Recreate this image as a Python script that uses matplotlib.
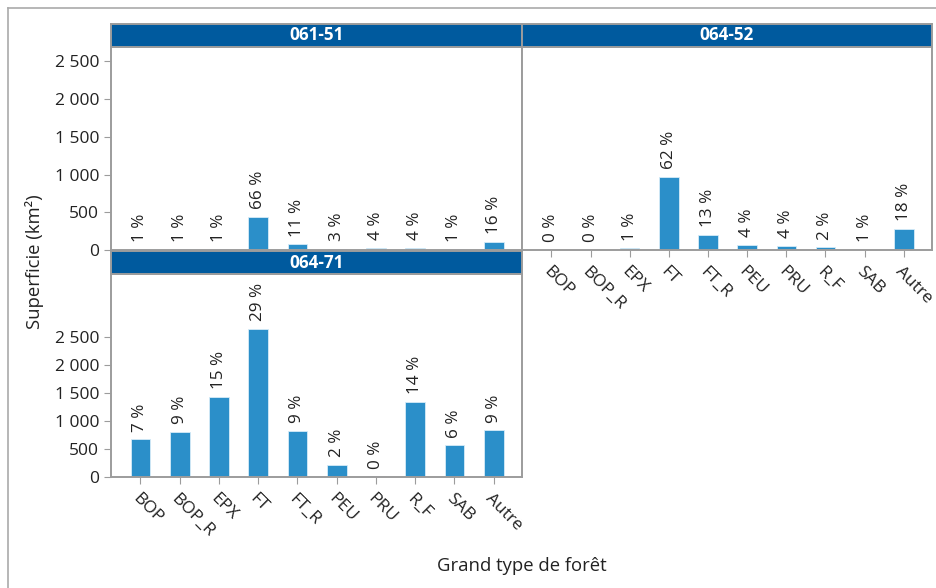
import matplotlib
matplotlib.use("Agg")
import matplotlib.pyplot as plt
from matplotlib.lines import Line2D
from matplotlib.ticker import FuncFormatter

categories = ["BOP", "BOP_R", "EPX", "FT", "FT_R", "PEU", "PRU", "R_F", "SAB", "Autre"]

area_061_51 = [7, 7, 8, 437, 76, 18, 31, 31, 7, 107]
pct_061_51 = [1, 1, 1, 66, 11, 3, 4, 4, 1, 16]

area_064_52 = [3, 3, 20, 971, 200, 66, 53, 36, 5, 284]
pct_064_52 = [0, 0, 1, 62, 13, 4, 4, 2, 1, 18]

area_064_71 = [673, 804, 1429, 2649, 821, 220, 15, 1339, 565, 833]
pct_064_71 = [7, 9, 15, 29, 9, 2, 0, 14, 6, 9]

y_ticks = [0, 500, 1000, 1500, 2000, 2500]

BAR = "#2b8fc9"
STRIP = "#005a9e"
FRAME = "#9c9c9c"
TXT = "#222222"

plt.rcParams["font.family"] = ["Open Sans", "DejaVu Sans"]

W, H = 936, 588
fig = plt.figure(figsize=(W / 100, H / 100), dpi=100)


def box(x0, y0, x1, y1):
    # pixel box (top-left origin) -> figure fraction rect
    return [x0 / W, 1 - y1 / H, (x1 - x0) / W, (y1 - y0) / H]


def fmt_thousands(v, _):
    return f"{int(v):,}".replace(",", " ")


def panel(rect, strip_rect, title, values, pcts, ymax, left_ticks, bottom_ticks):
    ax = fig.add_axes(rect)
    x = list(range(len(categories)))
    ax.bar(x, values, width=0.5, color=BAR, edgecolor="#d6ecf8", linewidth=0.6, zorder=2)
    for xi, v, p in zip(x, values, pcts):
        ax.annotate(f"{p} %", (xi, v), xytext=(0, 5.5), textcoords="offset points",
                    rotation=90, ha="center", va="bottom", fontsize=12.3, color=TXT)
    ax.set_xlim(-0.75, 9.72)
    ax.set_ylim(0, ymax)
    ax.set_yticks(y_ticks)
    ax.yaxis.set_major_formatter(FuncFormatter(fmt_thousands))
    ax.set_xticks(x)
    ax.set_xticklabels(categories, rotation=-45, ha="left", va="top",
                       rotation_mode="anchor", fontsize=12.5, color=TXT)
    ax.tick_params(axis="y", length=5, color=FRAME, labelsize=12.5, labelcolor=TXT,
                   left=left_ticks, labelleft=left_ticks)
    ax.tick_params(axis="x", length=5, color=FRAME, pad=5,
                   bottom=bottom_ticks, labelbottom=bottom_ticks)
    for s in ax.spines.values():
        s.set_color(FRAME)
        s.set_linewidth(1.4)

    sx = fig.add_axes(strip_rect)
    sx.set_facecolor(STRIP)
    sx.set_xticks([])
    sx.set_yticks([])
    for s in sx.spines.values():
        s.set_color(FRAME)
        s.set_linewidth(1.4)
    sx.text(0.5, 0.5, title, transform=sx.transAxes, ha="center", va="center",
            color="white", fontsize=12.3, fontweight="bold")
    return ax


panel(box(111, 47, 522, 250), box(111, 24, 522, 47), "061-51",
      area_061_51, pct_061_51, 2690, True, False)
panel(box(522, 47, 932, 250), box(522, 24, 932, 47), "064-52",
      area_064_52, pct_064_52, 2690, False, True)
panel(box(111, 274, 522, 477), box(111, 251, 522, 274), "064-71",
      area_064_71, pct_064_71, 3630, True, True)

fig.text(35 / W, 1 - 262 / H, "Superficie (km²)", rotation=90, ha="center",
         va="center", fontsize=13.3, color=TXT)
fig.text(522 / W, 1 - 566 / H, "Grand type de forêt", ha="center", va="center",
         fontsize=13.3, color=TXT)

# outer frame, top and left edges
fig.add_artist(Line2D([8 / W, 1], [1 - 8 / H, 1 - 8 / H], color="#aaaaaa", lw=1.2))
fig.add_artist(Line2D([8 / W, 8 / W], [0, 1 - 8 / H], color="#aaaaaa", lw=1.2))

fig.savefig("out.png", dpi=100)
